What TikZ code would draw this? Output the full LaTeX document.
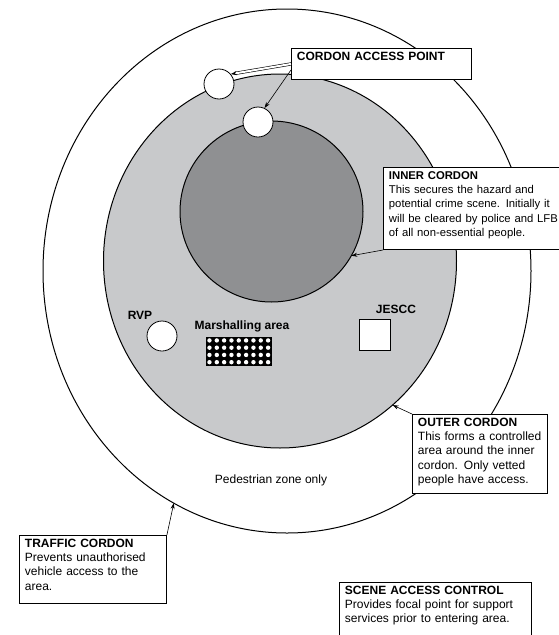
\documentclass[tikz,border=0pt]{standalone}
\usepackage{fontspec}
\setmainfont{Liberation Sans}
\usepackage{tikz}
\usetikzlibrary{shapes.geometric, arrows.meta, calc}
\hyphenpenalty=10000

\definecolor{outergrey}{RGB}{200,201,203}
\definecolor{innergrey}{RGB}{143,144,146}

\tikzstyle{cordon} = [ellipse, draw, line width=1pt, inner sep=0pt, outer sep=0pt]
\tikzstyle{point} = [circle, draw, fill=white, line width=0.8pt, minimum size=30pt, inner sep=0pt]
\tikzstyle{note} = [rectangle, draw, fill=white, line width=0.9pt, anchor=north west, align=left, inner xsep=5.5pt, inner ysep=3.5pt, text height=8.6pt, font=\fontsize{12pt}{14.2pt}\selectfont]
\tikzstyle{sitelabel} = [anchor=base, inner sep=0pt, font=\fontsize{12pt}{14pt}\selectfont\bfseries]
\tikzstyle{arrow} = [-{Stealth[length=6pt, width=4pt]}, line width=0.6pt]

\begin{document}
\begin{tikzpicture}[x=1pt, y=-1pt]
    \useasboundingbox (0,0) rectangle (559,635);
    \clip (0,0) rectangle (559,635);

    % Cordon rings
    \node [cordon, fill=white, minimum width=488pt, minimum height=524pt] (traffic) at (287,271) {};
    \node [cordon, fill=outergrey, minimum width=353pt, minimum height=374pt] (outer) at (280,261) {};
    \node [cordon, fill=innergrey, minimum width=183pt, minimum height=181pt] (inner) at (271.5,211.5) {};

    % Access points and sites
    \node [point] (ap1) at (219,84) {};
    \node [point] (ap2) at (258,122) {};
    \node [point] (rvp) at (162,336) {};
    \node [rectangle, draw, fill=white, line width=0.8pt, minimum size=31pt, inner sep=0pt] (jescc) at (374.5,334.5) {};
    \node [rectangle, fill=black, minimum width=66pt, minimum height=29pt, inner sep=0pt] (marsh) at (239,351.5) {};
    \foreach \i in {1,...,9}
        \foreach \j in {1,...,4}
            \fill [white] ($(marsh.north west)+(\i*7.33-3.67,\j*7.25-3.62)$) circle (2.2pt);

    % Site labels
    \node [sitelabel] (rvp_t) at (140,319) {RVP};
    \node [sitelabel] (marsh_t) at (242,329) {Marshalling area};
    \node [sitelabel] (jescc_t) at (396,313) {JESCC};
    \node [sitelabel, font=\fontsize{12pt}{14pt}\selectfont] (ped_t) at (271,483) {Pedestrian zone only};

    % Callout boxes
    \node [note, text width=169pt, text depth=15.4pt] (cap) at (291,48) {\textbf{CORDON ACCESS POINT}};
    \node [note, text width=189pt, text depth=66.5pt, font=\fontsize{11.3pt}{14.2pt}\selectfont] (ibox) at (383,167) {\textbf{INNER CORDON}\\
        This secures the hazard and\\
        potential crime scene. Initially it\\
        will be cleared by police and LFB\\
        of all non-essential people.};
    \node [note, text width=124pt, text depth=63.4pt] (obox) at (412,414) {\textbf{OUTER CORDON}\\
        This forms a controlled\\
        area around the inner\\
        cordon. Only vetted\\
        people have access.};
    \node [note, text width=136pt, text depth=52.4pt] (tbox) at (19,535) {\textbf{TRAFFIC CORDON}\\
        Prevents unauthorised\\
        vehicle access to the\\
        area.};
    \node [note, text width=181pt, text depth=42pt] (sbox) at (339,582) {\textbf{SCENE ACCESS CONTROL}\\
        Provides focal point for support\\
        services prior to entering area.};

    % Callout arrows
    \draw [arrow, double, double distance=2pt] (cap.west) -- (ap1.40);
    \draw [arrow] ($(cap.west)+(0,6)$) -- (ap2.65);
    \draw [arrow] (ibox.south west) -- (inner.-29);
    \draw [arrow] (obox.north west) -- (outer.-52);
    \draw [arrow] (tbox.north east) -- (traffic.-116);
\end{tikzpicture}
\end{document}
